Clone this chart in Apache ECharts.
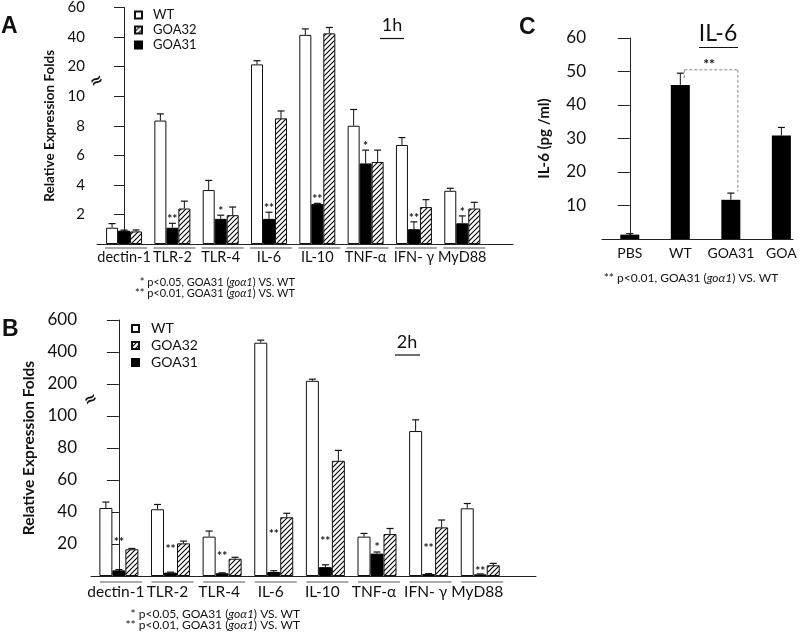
<!DOCTYPE html>
<html><head><meta charset="utf-8">
<script src="https://cdn.jsdelivr.net/npm/echarts@6/dist/echarts.min.js"></script>
<style>html,body{margin:0;padding:0;background:#fff}#c{width:800px;height:634px}</style>
</head><body><div id="c"></div>
<script>
// ---------- DATA ----------
const categoriesAB = ['dectin-1','TLR-2','TLR-4','IL-6','IL-10','TNF-α','IFN- γ','MyD88'];
const seriesNames = ['WT','GOA32','GOA31'];

// Panel A (1h)
const wtA      = [1.1, 8.35, 3.65, 21.5, 41.5, 8.0, 6.7, 3.6];
const wtErrA   = [0.28, 0.45, 0.65, 2.5, 4.0, 1.1, 0.5, 0.17];
const goa31A   = [0.9, 1.1, 1.7, 1.7, 2.7, 5.45, 1.0, 1.4];
const goa31ErrA= [0.04, 0.3, 0.25, 0.45, 0.05, 0.9, 0.5, 0.5];
const goa32A   = [0.85, 2.4, 1.95, 8.5, 42.5, 5.55, 2.5, 2.4];
const goa32ErrA= [0.1, 0.5, 0.55, 0.5, 4.0, 0.8, 0.5, 0.42];
const sigA     = ['', '**', '*', '**', '**', '*', '**', '*'];
const tickLabelsA = [2,4,6,8,10,20,40,60];

// Panel B (2h)
const wtB      = [42.5, 41.7, 24.6, 458, 220, 24.6, 90.6, 42.3];
const wtErrB   = [3.7, 3, 3.5, 16, 10, 2, 7, 3];
const goa31B   = [3.5, 2.1, 1.7, 2.5, 5.5, 14, 1.2, 1.0];
const goa31ErrB= [0.5, 0.3, 0.3, 0.8, 1.5, 1, 0.3, 0.3];
const goa32B   = [16.7, 20.4, 10.8, 36.7, 72, 26.2, 30.4, 6.7];
const goa32ErrB= [0.5, 1.4, 0.9, 2.5, 6.5, 3.5, 4.6, 1.2];
const sigB     = ['**','**','**','**','**','*','**','**'];
const sigLevelB= [22.5, 18, 13.7, 27.5, 23, 19.4, 18.7, 4.4];
const tickLabelsB = [20,40,60,80,100,200,400,600];

// Panel C (IL-6 protein)
const categoriesC = ['PBS','WT','GOA31','GOA'];
const valuesC     = [1.3, 46, 11.7, 30.9];
const errC        = [0.3, 3.5, 2, 2.4];
const tickLabelsC = [10,20,30,40,50,60];
const bracketC    = {from:1, to:2, level:50.5, leftEnd:47.5, rightEnd:14.2, text:'**'};

// ---------- broken-axis transforms ----------
function toDA(v){ return v<=10 ? v : (v<=20 ? 10+(v-10)/5 : 12+(v-20)/10); }
function toDB(v){ return v<=100 ? v/20 : (v<=200 ? 5+(v-100)/100 : 6+(v-200)/200); }
function toDC(v){ return v; }
function tickFmt(labels, toD){
  return function(val){ for (const l of labels) if (Math.abs(toD(l)-val)<1e-6) return String(l); return ''; };
}

const FONT = 'Lato';
const INK = '#111';

// hatch pattern
const hatch = (function(){
  const s=5, c=document.createElement('canvas'); c.width=s; c.height=s;
  const g=c.getContext('2d'); g.fillStyle='#fff'; g.fillRect(0,0,s,s);
  g.strokeStyle='#000'; g.lineWidth=1.1; g.beginPath();
  g.moveTo(0,s); g.lineTo(s,0); g.moveTo(-1,1); g.lineTo(1,-1); g.moveTo(s-1,s+1); g.lineTo(s+1,s-1);
  g.stroke(); return c;
})();

const series = [];

function errRender(off){
  return function(params, api){
    const x=api.value(0), top=api.value(1), et=api.value(2);
    const p0=api.coord([x,top]), p1=api.coord([x,et]);
    const cx=p0[0]+off;
    return {type:'group', children:[
      {type:'line', shape:{x1:cx,y1:p0[1],x2:cx,y2:p1[1]}, style:{stroke:INK,lineWidth:1}},
      {type:'line', shape:{x1:cx-3.5,y1:p1[1],x2:cx+3.5,y2:p1[1]}, style:{stroke:INK,lineWidth:1.2}}
    ]};
  };
}

function addPanel(p){
  const defs = [
    {name:'WT', vals:p.wt, errs:p.wtErr, style:{color:'#fff', borderColor:INK, borderWidth:1}},
    {name:'GOA31', vals:p.g31, errs:p.g31Err, style:{color:'#000', borderColor:'#000', borderWidth:1}},
    {name:'GOA32', vals:p.g32, errs:p.g32Err, style:{color:{image:hatch, repeat:'repeat'}, borderColor:INK, borderWidth:1}}
  ];
  defs.forEach(function(d,k){
    series.push({type:'bar', name:d.name, xAxisIndex:p.idx, yAxisIndex:p.idx, barWidth:p.barW, barGap:'0%',
      data:d.vals.map(function(v,i){return [i,p.toD(v)];}), itemStyle:d.style, silent:true});
    series.push({type:'custom', xAxisIndex:p.idx, yAxisIndex:p.idx, z:5, silent:true,
      data:d.vals.map(function(v,i){return [i,p.toD(v),p.toD(v+d.errs[i])];}),
      renderItem: errRender((k-1)*p.barW)});
  });
  // significance asterisks (on GOA31 bars)
  series.push({type:'custom', xAxisIndex:p.idx, yAxisIndex:p.idx, z:6, silent:true,
    data:p.g31.map(function(v,i){ return [i, p.sigLevel ? p.toD(p.sigLevel[i]) : p.toD(v+p.g31Err[i])]; }),
    renderItem:function(params, api){
      const i=api.value(0), pt=api.coord([i, api.value(1)]);
      const txt=p.sig[i]; if(!txt) return null;
      const y = p.sigLevel ? pt[1]-4 : pt[1]-10;
      return {type:'text', style:{text:txt, x:pt[0], y:y, font:'bold 12px '+FONT, fill:INK,
        align:'center', textAlign:'center', verticalAlign:'top', textVerticalAlign:'top'}};
    }});
  // category labels with overlines
  series.push({type:'custom', xAxisIndex:p.idx, yAxisIndex:p.idx, z:6, silent:true,
    data:p.cats.map(function(c,i){return [i,0];}),
    renderItem:function(params, api){
      const i=api.value(0), pt=api.coord([i,0]);
      return {type:'group', children:[
        {type:'line', shape:{x1:pt[0]-19,y1:pt[1]+p.lineOff,x2:pt[0]+23,y2:pt[1]+p.lineOff}, style:{stroke:'#555',lineWidth:1}},
        {type:'text', style:{text:p.cats[i], x:pt[0]+p.labelDx, y:pt[1]+p.labelOff, font:p.labelFont+'px '+FONT, fill:INK,
          align:'center', textAlign:'center', verticalAlign:'top', textVerticalAlign:'top'}}
      ]};
    }});
  // axis break mark
  series.push({type:'custom', xAxisIndex:p.idx, yAxisIndex:p.idx, z:7, silent:true,
    data:[[p.xmin, p.breakD]],
    renderItem:function(params, api){
      const pt=api.coord([api.value(0), api.value(1)]);
      return {type:'text', x:pt[0], y:pt[1], rotation:0.5,
        style:{text:'≈', x:0, y:0, font:'bold 16px "DejaVu Sans"', fill:INK, backgroundColor:'#fff',
        align:'center', textAlign:'center', verticalAlign:'middle', textVerticalAlign:'middle'}};
    }});
}

addPanel({idx:0, cats:categoriesAB, wt:wtA, wtErr:wtErrA, g31:goa31A, g31Err:goa31ErrA, g32:goa32A, g32Err:goa32ErrA,
  sig:sigA, sigLevel:null, toD:toDA, barW:12, labelFont:14.5, lineOff:4, labelOff:6, labelDx:0, xmin:-0.56, breakD:11});
addPanel({idx:1, cats:categoriesAB, wt:wtB, wtErr:wtErrB, g31:goa31B, g31Err:goa31ErrB, g32:goa32B, g32Err:goa32ErrB,
  sig:sigB, sigLevel:sigLevelB, toD:toDB, barW:13, labelFont:15.5, lineOff:6, labelOff:8, labelDx:-3, xmin:-0.54, breakD:5.5});

// Panel C
series.push({type:'bar', name:'IL-6', xAxisIndex:2, yAxisIndex:2, barWidth:19,
  data:valuesC.map(function(v,i){return [i,v];}), itemStyle:{color:'#000'}, silent:true});
series.push({type:'custom', xAxisIndex:2, yAxisIndex:2, z:5, silent:true,
  data:valuesC.map(function(v,i){return [i,v,v+errC[i]];}), renderItem:errRender(0)});
series.push({type:'custom', xAxisIndex:2, yAxisIndex:2, z:6, silent:true,
  data:categoriesC.map(function(c,i){return [i,0];}),
  renderItem:function(params, api){
    const i=api.value(0), pt=api.coord([i,0]);
    return {type:'text', style:{text:categoriesC[i], x:pt[0], y:pt[1]+7, font:'14px '+FONT, fill:INK,
      align:'center', textAlign:'center', verticalAlign:'top', textVerticalAlign:'top'}};
  }});
series.push({type:'custom', xAxisIndex:2, yAxisIndex:2, z:6, silent:true,
  data:[[bracketC.from, bracketC.to, bracketC.level, bracketC.leftEnd, bracketC.rightEnd]],
  renderItem:function(params, api){
    const a=api.coord([api.value(0), api.value(2)]), b=api.coord([api.value(1), api.value(2)]);
    const la=api.coord([api.value(0), api.value(3)]), rb=api.coord([api.value(1), api.value(4)]);
    const x1=a[0]+4, x2=b[0]+7;
    const st={stroke:'#8a8a8a', lineWidth:1, lineDash:[3,2]};
    return {type:'group', children:[
      {type:'line', shape:{x1:x1,y1:a[1],x2:x1,y2:la[1]}, style:st},
      {type:'line', shape:{x1:x1,y1:a[1],x2:x2,y2:a[1]}, style:st},
      {type:'line', shape:{x1:x2,y1:a[1],x2:x2,y2:rb[1]}, style:st},
      {type:'text', style:{text:bracketC.text, x:(x1+x2)/2-2, y:a[1]-12, font:'bold 14px '+FONT, fill:INK,
        align:'center', textAlign:'center', verticalAlign:'top', textVerticalAlign:'top'}}
    ]};
  }});

function xAx(g, min, max){
  return {type:'value', gridIndex:g, min:min, max:max, axisLine:{show:true,onZero:false,lineStyle:{color:'#222',width:1}},
    axisTick:{show:false}, axisLabel:{show:false}, splitLine:{show:false}};
}
function yAx(g, max, interval, labels, toD, fs, margin, tickLen, name, nameGap, nameFs){
  return {type:'value', gridIndex:g, min:0, max:max, interval:interval,
    axisLine:{show:true,lineStyle:{color:'#222',width:1}},
    axisTick:{show:true,length:tickLen,lineStyle:{color:'#222',width:1}},
    axisLabel:{formatter:tickFmt(labels,toD), fontSize:fs, fontFamily:FONT, color:INK, margin:margin},
    splitLine:{show:false},
    name:name, nameLocation:'middle', nameGap:nameGap,
    nameTextStyle:{fontWeight:'bold', fontSize:nameFs, fontFamily:FONT, color:INK}};
}

function txt(t, x, y, font, align, extra){
  return Object.assign({type:'text', silent:true, style:Object.assign({text:t, x:x, y:y, font:font, fill:INK,
    align:align||'left', textAlign:align||'left', verticalAlign:'middle', textVerticalAlign:'middle'}, extra||{})});
}
function ln(x1,y1,x2,y2,color){
  return {type:'line', silent:true, shape:{x1:x1,y1:y1,x2:x2,y2:y2}, style:{stroke:color||INK, lineWidth:1.2}};
}
const rich = {i:{fontStyle:'italic', fontFamily:FONT, fontSize:11, fill:INK}};
const richB = {i:{fontStyle:'italic', fontFamily:FONT, fontSize:12, fill:INK}};

const option = {
  animation:false,
  backgroundColor:'#fff',
  grid:[
    {left:97, top:6, width:416, height:238},
    {left:91, top:320, width:445, height:256},
    {left:602, top:38, width:191, height:201}
  ],
  xAxis:[ xAx(0,-0.56,8.05), xAx(1,-0.54,8.08), xAx(2,-0.55,3.23) ],
  yAxis:[
    yAx(0,16,2,tickLabelsA,toDA,15,12,10,'Relative Expression Folds',35,13.5),
    yAx(1,8,1,tickLabelsB,toDB,17,14,12,'Relative Expression Folds',53,15.5),
    yAx(2,60,10,tickLabelsC,toDC,17,16,12,'IL-6 (pg /ml)',50,15)
  ],
  legend:[
    {left:129, top:3, orient:'vertical', itemWidth:7, itemHeight:7, itemGap:1, icon:'rect', selectedMode:false,
      data:seriesNames, textStyle:{fontSize:13, fontFamily:FONT, color:INK, lineHeight:14, padding:[0,0,0,6]}},
    {left:126, top:316, orient:'vertical', itemWidth:7, itemHeight:7, itemGap:2, icon:'rect', selectedMode:false,
      data:seriesNames, textStyle:{fontSize:14, fontFamily:FONT, color:INK, lineHeight:15, padding:[0,0,0,7]}}
  ],
  graphic:[
    txt('A', 1, 27, 'bold 23px "Liberation Sans"'),
    txt('B', 2, 330, 'bold 23px "Liberation Sans"'),
    txt('C', 519, 28, 'bold 23px "Liberation Sans"'),
    txt('1h', 392, 25, '18px '+FONT, 'center'),
    ln(380, 38.5, 404, 38.5),
    txt('2h', 407, 342, '18px '+FONT, 'center'),
    ln(395, 355, 420, 355),
    txt('IL-6', 718, 34, '23px '+FONT, 'center'),
    ln(699, 47.5, 738, 47.5),
    txt('* p<0.05, GOA31 ({i|goα1}) VS. WT', 295, 282, '11px '+FONT, 'right', {rich:rich}),
    txt('** p<0.01, GOA31 ({i|goα1}) VS. WT', 295, 293, '11px '+FONT, 'right', {rich:rich}),
    txt('* p<0.05, GOA31 ({i|goα1}) VS. WT', 300, 614, '12px '+FONT, 'right', {rich:richB}),
    txt('** p<0.01, GOA31 ({i|goα1}) VS. WT', 300, 625, '12px '+FONT, 'right', {rich:richB}),
    txt('** p<0.01, GOA31 ({i|goα1}) VS. WT', 691, 278, '12px '+FONT, 'center', {rich:richB})
  ],
  series:series
};

const chart = echarts.init(document.getElementById('c'), null, {renderer:'canvas', width:800, height:634});
chart.setOption(option);
</script></body></html>
